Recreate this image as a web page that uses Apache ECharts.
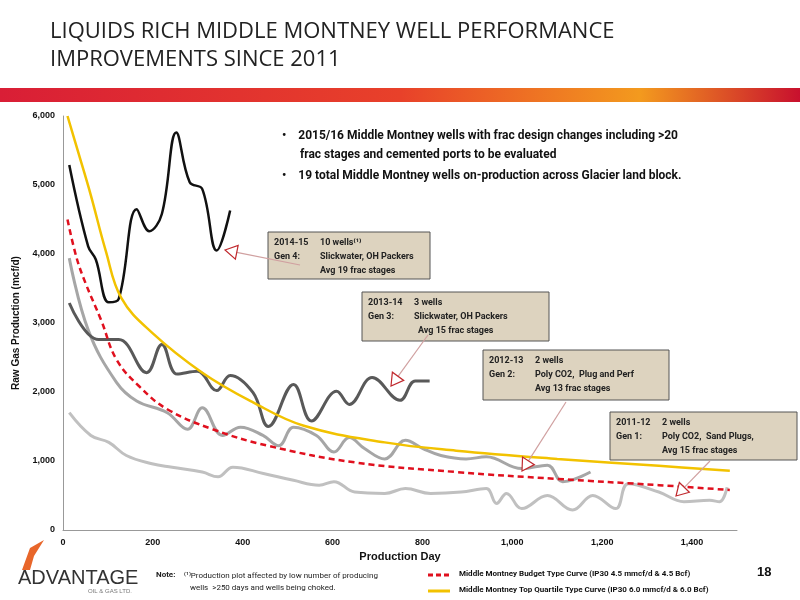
<!DOCTYPE html>
<html><head><meta charset="utf-8">
<script src="https://cdn.jsdelivr.net/npm/echarts@6/dist/echarts.min.js"></script>
<style>html,body{margin:0;padding:0;background:#fff}#c{width:800px;height:600px}</style>
</head><body><div id="c"></div>
<script>
// [day, mcf/d]
const gen4 = [[14,5290],[56,4110],[73,3920],[102,3300],[124,3350],[164,4650],[192,4330],[220,4580],[252,5760],[282,5040],[310,4940],[342,4050],[372,4630]];
const gen3 = [[14,3290],[79,2760],[124,2760],[186,2280],[220,2690],[254,2260],[299,2300],[342,2020],[372,2240],[423,1990],[457,1500],[513,2110],[553,1580],[609,2010],[637,1820],[688,2210],[750,1880],[784,2160],[816,2160]];
const gen2 = [[14,3940],[56,2900],[119,2140],[164,1870],[232,1700],[277,1460],[310,1770],[355,1370],[395,1490],[445,1370],[480,1220],[513,1490],[564,1370],[603,1130],[637,1340],[671,1180],[716,1030],[762,1300],[801,1180],[841,1080],[897,1030],[942,1060],[1021,890],[1078,940],[1112,700],[1174,840]];
const gen1 = [[14,1700],[62,1370],[102,1270],[141,1080],[198,960],[243,910],[310,840],[345,770],[378,910],[446,820],[513,720],[570,650],[603,700],[649,550],[716,530],[762,600],[818,530],[886,550],[942,600],[965,385],[987,530],[1021,310],[1078,500],[1134,290],[1179,500],[1230,310],[1258,670],[1326,550],[1382,410],[1439,430],[1461,410],[1478,620]];
const budget = [[10,4500],[30,3950],[50,3580],[85,3040],[119,2470],[170,2080],[232,1750],[333,1460],[457,1220],[649,980],[875,840],[1100,740],[1326,650],[1484,580]];
const topQuartile = [[10,6000],[35,5450],[62,4850],[95,4050],[130,3360],[198,2860],[310,2280],[423,1850],[536,1510],[716,1270],[875,1150],[1100,1030],[1326,930],[1484,860]];
const xTicks = [0,200,400,600,800,1000,1200,1400];
const yTicks = [0,1000,2000,3000,4000,5000,6000];

const narrow = '"Liberation Sans Narrow","Roboto",Arial,sans-serif';
const chart = echarts.init(document.getElementById('c'));
function box(x,y,w,h,lines){
  const ch=[{type:'rect',shape:{x:0,y:0,width:w,height:h},style:{fill:'#ddd3bf',stroke:'#555',lineWidth:1}}];
  lines.forEach((l,i)=>{
    ch.push({type:'text',x:6,y:6+i*14,style:{text:l[0],font:'bold 9px '+narrow,fill:'#222'}});
    ch.push({type:'text',x:l[2],y:6+i*14,style:{text:l[1],font:'bold 9px '+narrow,fill:'#222'}});
  });
  return {type:'group',x:x,y:y,children:ch,z:100};
}
function arrow(x1,y1,x2,y2){
  const a=Math.atan2(y2-y1,x2-x1), L=12, W=7;
  const bx=x2-L*Math.cos(a), by=y2-L*Math.sin(a);
  const px=-Math.sin(a)*W, py=Math.cos(a)*W;
  return [{type:'line',shape:{x1:x1,y1:y1,x2:bx,y2:by},style:{stroke:'#d0a0a0',lineWidth:1.2},z:99},
    {type:'polygon',shape:{points:[[x2,y2],[bx+px,by+py],[bx-px,by-py]]},style:{fill:'#fff',stroke:'#c0282d',lineWidth:1.2},z:99}];
}
const grad = new echarts.graphic.LinearGradient(0,0,1,0,[{offset:0,color:'#d91e36'},{offset:0.5,color:'#e8412a'},{offset:0.8,color:'#f39a1e'},{offset:1,color:'#c8102e'}]);
const line = (name,data,color,w,type)=>({name,type:'line',data,smooth:0.4,symbol:'none',lineStyle:{color,width:w,type:type||'solid'},z:type?5:3});
chart.setOption({
  animation:false,
  grid:{left:63,right:63,top:116,bottom:70},
  xAxis:{type:'value',min:0,max:1500,interval:200,
    name:'Production Day',nameLocation:'middle',nameGap:19,nameTextStyle:{fontWeight:'bold',fontSize:11,color:'#111',fontFamily:'Arial'},
    axisLine:{lineStyle:{color:'#999'}},axisTick:{show:false},splitLine:{show:false},
    axisLabel:{fontSize:9,fontWeight:'bold',color:'#111',formatter:v=>xTicks.includes(v)?v.toLocaleString('en-US'):''}},
  yAxis:{type:'value',min:0,max:6000,interval:1000,
    name:'Raw Gas Production (mcf/d)',nameLocation:'middle',nameGap:40,nameTextStyle:{fontWeight:'bold',fontSize:10,color:'#111',fontFamily:'Arial'},
    axisLine:{show:true,lineStyle:{color:'#999'}},axisTick:{show:false},splitLine:{show:false},
    axisLabel:{fontSize:9,fontWeight:'bold',color:'#111',formatter:v=>yTicks.includes(v)?v.toLocaleString('en-US'):''}},
  series:[
    line('2011-12 Gen 1',gen1,'#c0c0c0',3),
    line('2012-13 Gen 2',gen2,'#a6a6a6',3),
    line('2013-14 Gen 3',gen3,'#595959',3),
    line('2014-15 Gen 4',gen4,'#111111',2.5),
    line('Middle Montney Top Quartile Type Curve (IP30 6.0 mmcf/d & 6.0 Bcf)',topQuartile,'#f2c200',2.5),
    line('Middle Montney Budget Type Curve (IP30 4.5 mmcf/d & 4.5 Bcf)',budget,'#e0101e',2.5,[6,4])
  ],
  graphic:[
    {type:'text',left:50,top:18,style:{text:'LIQUIDS RICH MIDDLE MONTNEY WELL PERFORMANCE\nIMPROVEMENTS SINCE 2011',font:'22px "Open Sans",Arial,sans-serif',fill:'#222',lineHeight:28}},
    {type:'rect',shape:{x:0,y:88,width:800,height:14},style:{fill:grad}},
    {type:'text',left:282,top:126,style:{text:'•    2015/16 Middle Montney wells with frac design changes including >20\n      frac stages and cemented ports to be evaluated',font:'bold 12px '+narrow,fill:'#111',lineHeight:19}},
    {type:'text',left:282,top:170,style:{text:'•    19 total Middle Montney wells on-production across Glacier land block.',font:'bold 12px '+narrow,fill:'#111'}},
    box(268,232,162,47,[['2014-15','10 wells⁽¹⁾',52],['Gen 4:','Slickwater, OH Packers',52],['','Avg 19 frac stages',52]]),
    box(362,292,187,49,[['2013-14','3 wells',52],['Gen 3:','Slickwater, OH Packers',52],['','Avg 15 frac stages',56]]),
    box(483,350,186,50,[['2012-13','2 wells',52],['Gen 2:','Poly CO2,  Plug and Perf',52],['','Avg 13 frac stages',52]]),
    box(610,412,187,48,[['2011-12','2 wells',52],['Gen 1:','Poly CO2,  Sand Plugs,',52],['','Avg 15 frac stages',52]]),
    ...arrow(300,265,225,250),
    ...arrow(428,335,391,386),
    ...arrow(566,402,522,471),
    ...arrow(710,461,676,496),
    {type:'text',left:18,top:568,style:{text:'ADVANTAGE',font:'20px Arial,sans-serif',fill:'#333'}},
    {type:'text',left:88,top:588,style:{text:'OIL & GAS LTD.',font:'6px Arial',fill:'#777'}},
    {type:'polygon',shape:{points:[[22,570],[30,548],[44,540],[34,556],[30,570]]},style:{fill:'#e8662a'}},
    {type:'text',left:156,top:571,style:{text:'Note:',font:'bold 8px '+narrow,fill:'#222'}},
    {type:'text',left:184,top:570,style:{text:'⁽¹⁾Production plot affected by low number of producing\n   wells  >250 days and wells being choked.',font:'8px '+narrow,fill:'#222',lineHeight:12}},
    {type:'line',shape:{x1:428,y1:575,x2:450,y2:575},style:{stroke:'#e0101e',lineWidth:3,lineDash:[5,3]}},
    {type:'text',left:459,top:570,style:{text:'Middle Montney Budget Type Curve (IP30 4.5 mmcf/d & 4.5 Bcf)',font:'bold 8px '+narrow,fill:'#111'}},
    {type:'line',shape:{x1:428,y1:591,x2:450,y2:591},style:{stroke:'#f2c200',lineWidth:3}},
    {type:'text',left:459,top:586,style:{text:'Middle Montney Top Quartile Type Curve (IP30 6.0 mmcf/d & 6.0 Bcf)',font:'bold 8px '+narrow,fill:'#111'}},
    {type:'text',left:757,top:566,style:{text:'18',font:'bold 13px Arial',fill:'#111'}}
  ]
});
</script></body></html>
